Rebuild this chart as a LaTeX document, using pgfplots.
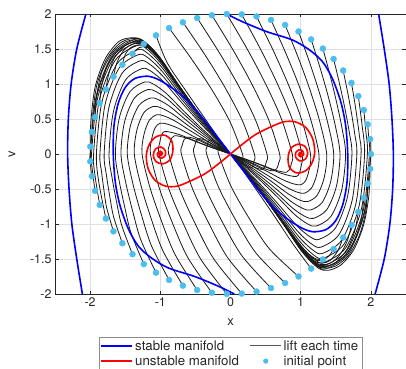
\documentclass[border=0pt]{standalone}
\usepackage{fontspec}
\setmainfont{TeX Gyre Heros}
\usepackage{pgfplots}
\pgfplotsset{compat=1.18}
\definecolor{mgray}{rgb}{0.15,0.15,0.15}
\definecolor{dotc}{rgb}{0.30,0.745,0.933}
\pgfplotsset{lift/.style={smooth, black!90, line width=0.8bp, forget plot}}
\begin{document}
\begin{tikzpicture}
\begin{axis}[
 at={(0,0)}, anchor=south west,
 width=351bp, height=280bp, scale only axis,
 xmin=-2.5, xmax=2.5, ymin=-2, ymax=2,
 xtick={-2,-1,0,1,2}, ytick={-2,-1.5,-1,-0.5,0,0.5,1,1.5,2},
 grid=major, grid style={black!12, line width=0.4bp},
 axis line style={mgray, line width=0.5bp},
 tick style={mgray, line width=0.5bp}, tick align=inside, major tick length=3.5bp,
 ticklabel style={font=\fontsize{12.5}{14}\selectfont, text=mgray},
 /pgf/number format/assume math mode=true,
 xlabel={x}, ylabel={v},
 label style={font=\fontsize{13}{15}\selectfont, text=mgray},
 xlabel style={at={(axis description cs:0.5,-0.1)}, anchor=center},
 ylabel style={at={(axis description cs:-0.1225,0.5)}, anchor=center},
 legend image code/.code={\draw[#1] (0bp,0bp) -- (31bp,0bp);},
 legend style={at={(0.5,-0.152)}, anchor=north, legend columns=2, draw=black!45, line width=0.5bp,
   font=\fontsize{13.3}{15}\selectfont, text=mgray, legend cell align=left, inner sep=1.5bp,
   /tikz/every even column/.append style={column sep=9bp}},
]
\addlegendimage{blue, line width=1.6bp}\addlegendentry{stable manifold}
\addlegendimage{black!65, line width=0.8bp}\addlegendentry{lift each time}
\addlegendimage{red, line width=1.6bp}\addlegendentry{unstable manifold}
\addlegendimage{legend image code/.code={\fill[dotc] (15.5bp,0bp) circle (2.3bp);}}\addlegendentry{initial point}

% ---- right family arcs
\addplot[lift] coordinates {(2.0,0.0) (1.914,-0.82) (1.68,-1.42) (1.36,-1.64) (1.224,-1.591) (1.02,-1.378) (0.748,-0.984) (0.476,-0.607) (0.231,-0.287) (0.054,-0.066)};
\addplot[lift] coordinates {(1.989,0.213) (1.995,0) (1.909,-0.81) (1.673,-1.403) (1.35,-1.62) (1.215,-1.571) (1.013,-1.361) (0.743,-0.972) (0.473,-0.599) (0.23,-0.284) (0.054,-0.065)};
\addplot[lift] coordinates {(1.955,0.423) (1.97,0.21) (1.98,0) (1.894,-0.795) (1.66,-1.377) (1.34,-1.59) (1.206,-1.542) (1.005,-1.336) (0.737,-0.954) (0.469,-0.588) (0.228,-0.278) (0.054,-0.064)};
\addplot[lift] coordinates {(1.899,0.628) (1.929,0.314) (1.95,0) (1.867,-0.775) (1.64,-1.342) (1.33,-1.55) (1.197,-1.504) (0.998,-1.302) (0.732,-0.93) (0.466,-0.574) (0.226,-0.271) (0.053,-0.062)};
\addplot[lift] coordinates {(1.821,0.827) (1.874,0.414) (1.91,0) (1.831,-0.745) (1.615,-1.29) (1.32,-1.49) (1.188,-1.445) (0.99,-1.252) (0.726,-0.894) (0.462,-0.551) (0.224,-0.261) (0.053,-0.06)};
\addplot[lift] coordinates {(1.723,1.015) (1.766,0.761) (1.804,0.508) (1.837,0.254) (1.86,0) (1.786,-0.71) (1.585,-1.23) (1.31,-1.42) (1.179,-1.377) (0.983,-1.193) (0.721,-0.852) (0.459,-0.525) (0.223,-0.249) (0.052,-0.057)};
\addplot[lift] coordinates {(1.605,1.193) (1.666,0.895) (1.721,0.597) (1.768,0.298) (1.80,0) (1.732,-0.665) (1.545,-1.152) (1.29,-1.33) (1.161,-1.29) (0.968,-1.117) (0.71,-0.798) (0.452,-0.492) (0.219,-0.233) (0.052,-0.053)};
\addplot[lift] coordinates {(1.469,1.357) (1.55,1.018) (1.624,0.679) (1.687,0.339) (1.73,0) (1.667,-0.61) (1.495,-1.057) (1.26,-1.22) (1.134,-1.183) (0.945,-1.025) (0.693,-0.732) (0.441,-0.451) (0.214,-0.214) (0.05,-0.049)};
\addplot[lift] coordinates {(1.316,1.506) (1.417,1.13) (1.508,0.753) (1.587,0.377) (1.64,0) (1.584,-0.515) (1.43,-0.892) (1.22,-1.03) (1.098,-0.999) (0.915,-0.865) (0.671,-0.618) (0.427,-0.381) (0.207,-0.18) (0.049,-0.041)};
\addplot[lift] coordinates {(1.149,1.637) (1.277,1.228) (1.393,0.819) (1.492,0.409) (1.56,0) (1.509,-0.46) (1.37,-0.797) (1.18,-0.92) (1.062,-0.892) (0.885,-0.773) (0.649,-0.552) (0.413,-0.34) (0.201,-0.161) (0.047,-0.037)};
\addplot[lift] coordinates {(0.969,1.75) (1.125,1.313) (1.267,0.875) (1.387,0.438) (1.47,0) (1.426,-0.4) (1.305,-0.693) (1.14,-0.8) (1.026,-0.776) (0.855,-0.672) (0.627,-0.48) (0.399,-0.296) (0.194,-0.14) (0.046,-0.032)};
\addplot[lift] coordinates {(0.778,1.843) (0.963,1.382) (1.13,0.922) (1.272,0.461) (1.37,0) (1.334,-0.34) (1.235,-0.589) (1.1,-0.68) (0.99,-0.66) (0.825,-0.571) (0.605,-0.408) (0.385,-0.252) (0.187,-0.119) (0.044,-0.027)};
\addplot[lift] coordinates {(0.577,1.915) (0.79,1.436) (0.983,0.958) (1.147,0.479) (1.26,0) (1.232,-0.28) (1.155,-0.485) (1.05,-0.56) (0.945,-0.543) (0.788,-0.47) (0.578,-0.336) (0.368,-0.207) (0.179,-0.098) (0.042,-0.022)};
\addplot[lift] coordinates {(0.371,1.965) (0.611,1.474) (0.828,0.983) (1.013,0.491) (1.14,0) (1.121,-0.22) (1.07,-0.381) (1.0,-0.44) (0.9,-0.427) (0.75,-0.37) (0.55,-0.264) (0.35,-0.163) (0.17,-0.077) (0.04,-0.018)};
\addplot[lift] coordinates {(0.16,1.994) (0.428,1.496) (0.671,0.997) (0.878,0.499) (1.02,0) (1.009,-0.16) (0.98,-0.277) (0.94,-0.32) (0.846,-0.31) (0.705,-0.269) (0.517,-0.192) (0.329,-0.118) (0.16,-0.056) (0.038,-0.013)};
\addplot[lift] coordinates {(-0.053,1.999) (0.238,1.499) (0.501,1.0) (0.726,0.5) (0.88,0) (0.869,-0.13) (0.84,-0.225) (0.8,-0.26) (0.72,-0.252) (0.6,-0.218) (0.44,-0.156) (0.28,-0.096) (0.136,-0.046) (0.032,-0.01)};
\addplot[lift] coordinates {(-0.265,1.982) (0.036,1.487) (0.308,0.991) (0.541,0.496) (0.7,0) (0.689,-0.12) (0.66,-0.208) (0.62,-0.24) (0.558,-0.233) (0.465,-0.202) (0.341,-0.144) (0.217,-0.089) (0.105,-0.042) (0.025,-0.01)};
\addplot[lift] coordinates {(-0.475,1.943) (-0.165,1.457) (0.116,0.972) (0.356,0.486) (0.52,0) (0.511,-0.11) (0.485,-0.19) (0.45,-0.22) (0.405,-0.213) (0.338,-0.185) (0.248,-0.132) (0.158,-0.081) (0.077,-0.039) (0.018,-0.009)};
\addplot[lift] coordinates {(-0.678,1.881) (-0.36,1.411) (-0.073,0.941) (0.172,0.47) (0.34,0) (0.335,-0.1) (0.32,-0.173) (0.3,-0.2) (0.27,-0.194) (0.225,-0.168) (0.165,-0.12) (0.105,-0.074) (0.051,-0.035) (0.012,-0.008)};
\addplot[lift] coordinates {(-0.875,1.799) (-0.549,1.349) (-0.254,0.9) (-0.002,0.45) (0.17,0) (0.165,-0.08) (0.15,-0.15) (0.113,-0.126) (0.083,-0.09) (0.053,-0.056) (0.026,-0.026) (0.006,-0.006)};
% ---- right feeders
\addplot[lift] coordinates {(1.149,-1.637) (0.9,-1.3) (0.62,-0.88) (0.36,-0.5) (0.15,-0.2) (0.03,-0.04)};
\addplot[lift] coordinates {(1.316,-1.506) (1.22,-1.5) (1.05,-1.37) (0.76,-1.0) (0.48,-0.62) (0.23,-0.29) (0.05,-0.065)};
\addplot[lift] coordinates {(1.469,-1.357) (1.4,-1.46) (1.3,-1.52) (1.18,-1.5) (1.0,-1.33) (0.74,-0.98) (0.47,-0.6) (0.23,-0.285) (0.05,-0.064)};
\addplot[lift] coordinates {(1.605,-1.193) (1.53,-1.38) (1.42,-1.52) (1.3,-1.56) (1.18,-1.52) (1.0,-1.35) (0.74,-0.98) (0.47,-0.605) (0.23,-0.286) (0.05,-0.065)};
\addplot[lift] coordinates {(1.723,-1.015) (1.66,-1.25) (1.55,-1.45) (1.42,-1.56) (1.3,-1.58) (1.17,-1.53) (0.99,-1.34) (0.74,-0.975) (0.47,-0.6) (0.23,-0.285) (0.05,-0.065)};
\addplot[lift] coordinates {(1.821,-0.827) (1.77,-1.1) (1.66,-1.36) (1.5,-1.55) (1.34,-1.61) (1.2,-1.57) (1.0,-1.36) (0.745,-0.98) (0.474,-0.603) (0.23,-0.286) (0.054,-0.066)};
\addplot[lift] coordinates {(1.899,-0.628) (1.86,-0.95) (1.76,-1.25) (1.6,-1.48) (1.44,-1.58) (1.32,-1.6) (1.2,-1.56) (1.0,-1.365) (0.745,-0.982) (0.475,-0.606) (0.231,-0.287) (0.054,-0.066)};
\addplot[lift] coordinates {(1.955,-0.423) (1.93,-0.8) (1.84,-1.15) (1.68,-1.45) (1.5,-1.6) (1.36,-1.63) (1.22,-1.59) (1.02,-1.385) (0.748,-0.99) (0.476,-0.61) (0.231,-0.288) (0.054,-0.066)};
\addplot[lift] coordinates {(1.989,-0.213) (1.97,-0.6) (1.9,-1.0) (1.76,-1.36) (1.58,-1.58) (1.4,-1.66) (1.25,-1.63) (1.03,-1.41) (0.75,-1.0) (0.477,-0.612) (0.232,-0.289) (0.055,-0.067)};
% ---- left feeders
\addplot[lift] coordinates {(-1.061,1.695) (-0.9,1.3) (-0.62,0.88) (-0.36,0.5) (-0.15,0.2) (-0.03,0.04)};
\addplot[lift] coordinates {(-1.235,1.573) (-1.08,1.45) (-0.78,1.03) (-0.48,0.62) (-0.23,0.29) (-0.05,0.065)};
\addplot[lift] coordinates {(-1.396,1.432) (-1.3,1.52) (-1.18,1.52) (-1.0,1.35) (-0.74,0.98) (-0.47,0.6) (-0.23,0.285) (-0.05,0.064)};
\addplot[lift] coordinates {(-1.54,1.275) (-1.5,1.42) (-1.42,1.52) (-1.3,1.56) (-1.18,1.52) (-1.0,1.35) (-0.74,0.98) (-0.47,0.605) (-0.23,0.286) (-0.05,0.065)};
\addplot[lift] coordinates {(-1.667,1.105) (-1.62,1.3) (-1.53,1.47) (-1.42,1.56) (-1.3,1.58) (-1.17,1.53) (-0.99,1.34) (-0.74,0.975) (-0.47,0.6) (-0.23,0.285) (-0.05,0.065)};
\addplot[lift] coordinates {(-1.775,0.922) (-1.74,1.12) (-1.66,1.36) (-1.5,1.55) (-1.34,1.61) (-1.2,1.57) (-1.0,1.36) (-0.745,0.98) (-0.474,0.603) (-0.23,0.286) (-0.054,0.066)};
\addplot[lift] coordinates {(-1.863,0.728) (-1.84,0.95) (-1.76,1.25) (-1.6,1.48) (-1.44,1.58) (-1.32,1.6) (-1.2,1.56) (-1.0,1.365) (-0.745,0.982) (-0.475,0.606) (-0.231,0.287) (-0.054,0.066)};
\addplot[lift] coordinates {(-1.93,0.526) (-1.91,0.8) (-1.84,1.15) (-1.68,1.45) (-1.5,1.6) (-1.36,1.63) (-1.22,1.59) (-1.02,1.385) (-0.748,0.99) (-0.476,0.61) (-0.231,0.288) (-0.054,0.066)};
\addplot[lift] coordinates {(-1.975,0.318) (-1.96,0.6) (-1.9,1.0) (-1.76,1.36) (-1.58,1.58) (-1.4,1.65) (-1.25,1.62) (-1.03,1.41) (-0.75,1.0) (-0.477,0.612) (-0.232,0.289) (-0.055,0.067)};
\addplot[lift] coordinates {(-1.997,0.106) (-1.99,0.45) (-1.93,0.95) (-1.79,1.35) (-1.6,1.6) (-1.42,1.66) (-1.26,1.63) (-1.04,1.42) (-0.752,1.005) (-0.478,0.614) (-0.232,0.29) (-0.055,0.067)};
% ---- left family arcs
\addplot[lift] coordinates {(-1.997,-0.106) (-2.0,0.0) (-1.914,0.82) (-1.68,1.42) (-1.36,1.64) (-1.224,1.591) (-1.02,1.378) (-0.748,0.984) (-0.476,0.607) (-0.231,0.287) (-0.054,0.066)};
\addplot[lift] coordinates {(-1.975,-0.318) (-1.995,0) (-1.909,0.81) (-1.673,1.403) (-1.35,1.62) (-1.215,1.571) (-1.013,1.361) (-0.743,0.972) (-0.473,0.599) (-0.23,0.284) (-0.054,0.065)};
\addplot[lift] coordinates {(-1.93,-0.526) (-1.97,-0.21) (-1.98,0) (-1.894,0.795) (-1.66,1.377) (-1.34,1.59) (-1.206,1.542) (-1.005,1.336) (-0.737,0.954) (-0.469,0.588) (-0.228,0.278) (-0.054,0.064)};
\addplot[lift] coordinates {(-1.863,-0.728) (-1.929,-0.314) (-1.95,0) (-1.867,0.775) (-1.64,1.342) (-1.33,1.55) (-1.197,1.504) (-0.998,1.302) (-0.732,0.93) (-0.466,0.574) (-0.226,0.271) (-0.053,0.062)};
\addplot[lift] coordinates {(-1.775,-0.922) (-1.874,-0.414) (-1.91,0) (-1.831,0.745) (-1.615,1.29) (-1.32,1.49) (-1.188,1.445) (-0.99,1.252) (-0.726,0.894) (-0.462,0.551) (-0.224,0.261) (-0.053,0.06)};
\addplot[lift] coordinates {(-1.667,-1.105) (-1.766,-0.761) (-1.804,-0.508) (-1.837,-0.254) (-1.86,0) (-1.786,0.71) (-1.585,1.23) (-1.31,1.42) (-1.179,1.377) (-0.983,1.193) (-0.721,0.852) (-0.459,0.525) (-0.223,0.249) (-0.052,0.057)};
\addplot[lift] coordinates {(-1.54,-1.275) (-1.666,-0.895) (-1.721,-0.597) (-1.768,-0.298) (-1.80,0) (-1.732,0.665) (-1.545,1.152) (-1.29,1.33) (-1.161,1.29) (-0.968,1.117) (-0.71,0.798) (-0.452,0.492) (-0.219,0.233) (-0.052,0.053)};
\addplot[lift] coordinates {(-1.396,-1.432) (-1.55,-1.018) (-1.624,-0.679) (-1.687,-0.339) (-1.73,0) (-1.667,0.61) (-1.495,1.057) (-1.26,1.22) (-1.134,1.183) (-0.945,1.025) (-0.693,0.732) (-0.441,0.451) (-0.214,0.214) (-0.05,0.049)};
\addplot[lift] coordinates {(-1.235,-1.573) (-1.417,-1.13) (-1.508,-0.753) (-1.587,-0.377) (-1.64,0) (-1.584,0.515) (-1.43,0.892) (-1.22,1.03) (-1.098,0.999) (-0.915,0.865) (-0.671,0.618) (-0.427,0.381) (-0.207,0.18) (-0.049,0.041)};
\addplot[lift] coordinates {(-1.061,-1.695) (-1.277,-1.228) (-1.393,-0.819) (-1.492,-0.409) (-1.56,0) (-1.509,0.46) (-1.37,0.797) (-1.18,0.92) (-1.062,0.892) (-0.885,0.773) (-0.649,0.552) (-0.413,0.34) (-0.201,0.161) (-0.047,0.037)};
\addplot[lift] coordinates {(-0.875,-1.799) (-1.125,-1.313) (-1.267,-0.875) (-1.387,-0.438) (-1.47,0) (-1.426,0.4) (-1.305,0.693) (-1.14,0.8) (-1.026,0.776) (-0.855,0.672) (-0.627,0.48) (-0.399,0.296) (-0.194,0.14) (-0.046,0.032)};
\addplot[lift] coordinates {(-0.678,-1.881) (-0.963,-1.382) (-1.13,-0.922) (-1.272,-0.461) (-1.37,0) (-1.334,0.34) (-1.235,0.589) (-1.1,0.68) (-0.99,0.66) (-0.825,0.571) (-0.605,0.408) (-0.385,0.252) (-0.187,0.119) (-0.044,0.027)};
\addplot[lift] coordinates {(-0.475,-1.943) (-0.79,-1.436) (-0.983,-0.958) (-1.147,-0.479) (-1.26,0) (-1.232,0.28) (-1.155,0.485) (-1.05,0.56) (-0.945,0.543) (-0.788,0.47) (-0.578,0.336) (-0.368,0.207) (-0.179,0.098) (-0.042,0.022)};
\addplot[lift] coordinates {(-0.265,-1.982) (-0.611,-1.474) (-0.828,-0.983) (-1.013,-0.491) (-1.14,0) (-1.121,0.22) (-1.07,0.381) (-1.0,0.44) (-0.9,0.427) (-0.75,0.37) (-0.55,0.264) (-0.35,0.163) (-0.17,0.077) (-0.04,0.018)};
\addplot[lift] coordinates {(-0.053,-1.999) (-0.428,-1.496) (-0.671,-0.997) (-0.878,-0.499) (-1.02,0) (-1.009,0.16) (-0.98,0.277) (-0.94,0.32) (-0.846,0.31) (-0.705,0.269) (-0.517,0.192) (-0.329,0.118) (-0.16,0.056) (-0.038,0.013)};
\addplot[lift] coordinates {(0.16,-1.994) (-0.238,-1.499) (-0.501,-1.0) (-0.726,-0.5) (-0.88,0) (-0.869,0.13) (-0.84,0.225) (-0.8,0.26) (-0.72,0.252) (-0.6,0.218) (-0.44,0.156) (-0.28,0.096) (-0.136,0.046) (-0.032,0.01)};
\addplot[lift] coordinates {(0.371,-1.965) (-0.036,-1.487) (-0.308,-0.991) (-0.541,-0.496) (-0.7,0) (-0.689,0.12) (-0.66,0.208) (-0.62,0.24) (-0.558,0.233) (-0.465,0.202) (-0.341,0.144) (-0.217,0.089) (-0.105,0.042) (-0.025,0.01)};
\addplot[lift] coordinates {(0.577,-1.915) (0.165,-1.457) (-0.116,-0.972) (-0.356,-0.486) (-0.52,0) (-0.511,0.11) (-0.485,0.19) (-0.45,0.22) (-0.405,0.213) (-0.338,0.185) (-0.248,0.132) (-0.158,0.081) (-0.077,0.039) (-0.018,0.009)};
\addplot[lift] coordinates {(0.778,-1.843) (0.36,-1.411) (0.073,-0.941) (-0.172,-0.47) (-0.34,0) (-0.335,0.1) (-0.32,0.173) (-0.3,0.2) (-0.27,0.194) (-0.225,0.168) (-0.165,0.12) (-0.105,0.074) (-0.051,0.035) (-0.012,0.008)};
\addplot[lift] coordinates {(0.969,-1.75) (0.549,-1.349) (0.254,-0.9) (0.002,-0.45) (-0.17,0) (-0.165,0.08) (-0.15,0.15) (-0.113,0.126) (-0.083,0.09) (-0.053,0.056) (-0.026,0.026) (-0.006,0.006)};

% ---- stable manifold
\addplot[smooth, blue, line width=1.6bp, forget plot] coordinates {(-0.053,1.999) (0.17,1.89) (0.51,1.75) (0.88,1.63) (1.12,1.49) (1.31,1.32) (1.45,1.08) (1.57,0.75) (1.64,0.41) (1.67,0.0) (1.66,-0.4) (1.6,-0.72) (1.5,-0.95) (1.36,-1.08) (1.17,-1.11) (1.0,-1.05) (0.8,-0.92) (0.62,-0.77) (0.45,-0.58) (0.27,-0.35) (0.1,-0.13) (0,0)};
\addplot[smooth, blue, line width=1.6bp, forget plot] coordinates {(0.053,-1.999) (-0.17,-1.89) (-0.51,-1.75) (-0.88,-1.63) (-1.12,-1.49) (-1.31,-1.32) (-1.45,-1.08) (-1.57,-0.75) (-1.64,-0.41) (-1.67,0.0) (-1.66,0.4) (-1.6,0.72) (-1.5,0.95) (-1.36,1.08) (-1.17,1.11) (-1.0,1.05) (-0.8,0.92) (-0.62,0.77) (-0.45,0.58) (-0.27,0.35) (-0.1,0.13) (0,0)};
\addplot[smooth, blue, line width=1.6bp, forget plot] coordinates {(2.11,2.0) (2.19,1.5) (2.26,1.0) (2.3,0.5) (2.32,0.0) (2.31,-0.5) (2.27,-1.0) (2.19,-1.5) (2.06,-2.0)};
\addplot[smooth, blue, line width=1.6bp, forget plot] coordinates {(-2.11,-2.0) (-2.19,-1.5) (-2.26,-1.0) (-2.3,-0.5) (-2.32,0.0) (-2.31,0.5) (-2.27,1.0) (-2.19,1.5) (-2.06,2.0)};
% ---- unstable manifold
\addplot[smooth, red, line width=1.6bp, forget plot] coordinates {(0,0) (0.17,0.14) (0.36,0.28) (0.58,0.39) (0.76,0.46) (0.92,0.46) (1.07,0.38) (1.17,0.22) (1.2,0.03) (1.16,-0.13) (1.07,-0.24) (0.94,-0.27) (0.84,-0.19) (0.82,-0.05) (0.86,0.08) (0.96,0.14) (1.06,0.11) (1.1,0.02) (1.07,-0.07) (0.99,-0.1) (0.93,-0.05) (0.93,0.02) (0.98,0.06) (1.03,0.04) (1.04,-0.01) (1.0,-0.04) (0.97,-0.01) (0.99,0.02) (1.0,0.0)};
\addplot[smooth, red, line width=1.6bp, forget plot] coordinates {(0,0) (-0.17,-0.14) (-0.36,-0.28) (-0.58,-0.39) (-0.76,-0.46) (-0.92,-0.46) (-1.07,-0.38) (-1.17,-0.22) (-1.2,-0.03) (-1.16,0.13) (-1.07,0.24) (-0.94,0.27) (-0.84,0.19) (-0.82,0.05) (-0.86,-0.08) (-0.96,-0.14) (-1.06,-0.11) (-1.1,-0.02) (-1.07,0.07) (-0.99,0.1) (-0.93,0.05) (-0.93,-0.02) (-0.98,-0.06) (-1.03,-0.04) (-1.04,0.01) (-1.0,0.04) (-0.97,0.01) (-0.99,-0.02) (-1.0,0.0)};
\addplot[only marks, mark=*, mark size=1.8bp, red, forget plot] coordinates {(1.0,0.0) (-1.0,0.0)};
% ---- initial points
\addplot[only marks, mark=*, mark size=3bp, mark options={fill=dotc, draw=dotc}, forget plot, clip=false] coordinates {
(2.000,0.000) (1.989,0.213) (1.955,0.423) (1.899,0.628) (1.821,0.827) (1.723,1.015) (1.605,1.193) (1.469,1.357) (1.316,1.506) (1.149,1.637)
(0.969,1.750) (0.778,1.843) (0.577,1.915) (0.371,1.965) (0.160,1.994) (-0.053,1.999) (-0.265,1.982) (-0.475,1.943) (-0.678,1.881) (-0.875,1.799)
(-1.061,1.695) (-1.235,1.573) (-1.396,1.432) (-1.540,1.275) (-1.667,1.105) (-1.775,0.922) (-1.863,0.728) (-1.930,0.526) (-1.975,0.318) (-1.997,0.106)
(-1.997,-0.106) (-1.975,-0.318) (-1.930,-0.526) (-1.863,-0.728) (-1.775,-0.922) (-1.667,-1.105) (-1.540,-1.275) (-1.396,-1.432) (-1.235,-1.573) (-1.061,-1.695)
(-0.875,-1.799) (-0.678,-1.881) (-0.475,-1.943) (-0.265,-1.982) (-0.053,-1.999) (0.160,-1.994) (0.371,-1.965) (0.577,-1.915) (0.778,-1.843) (0.969,-1.750)
(1.149,-1.637) (1.316,-1.506) (1.469,-1.357) (1.605,-1.193) (1.723,-1.015) (1.821,-0.827) (1.899,-0.628) (1.955,-0.423) (1.989,-0.213)};
\end{axis}
\pgfresetboundingbox
\path[use as bounding box] (-55bp,-75bp) rectangle (351bp,294bp);
\end{tikzpicture}
\end{document}
